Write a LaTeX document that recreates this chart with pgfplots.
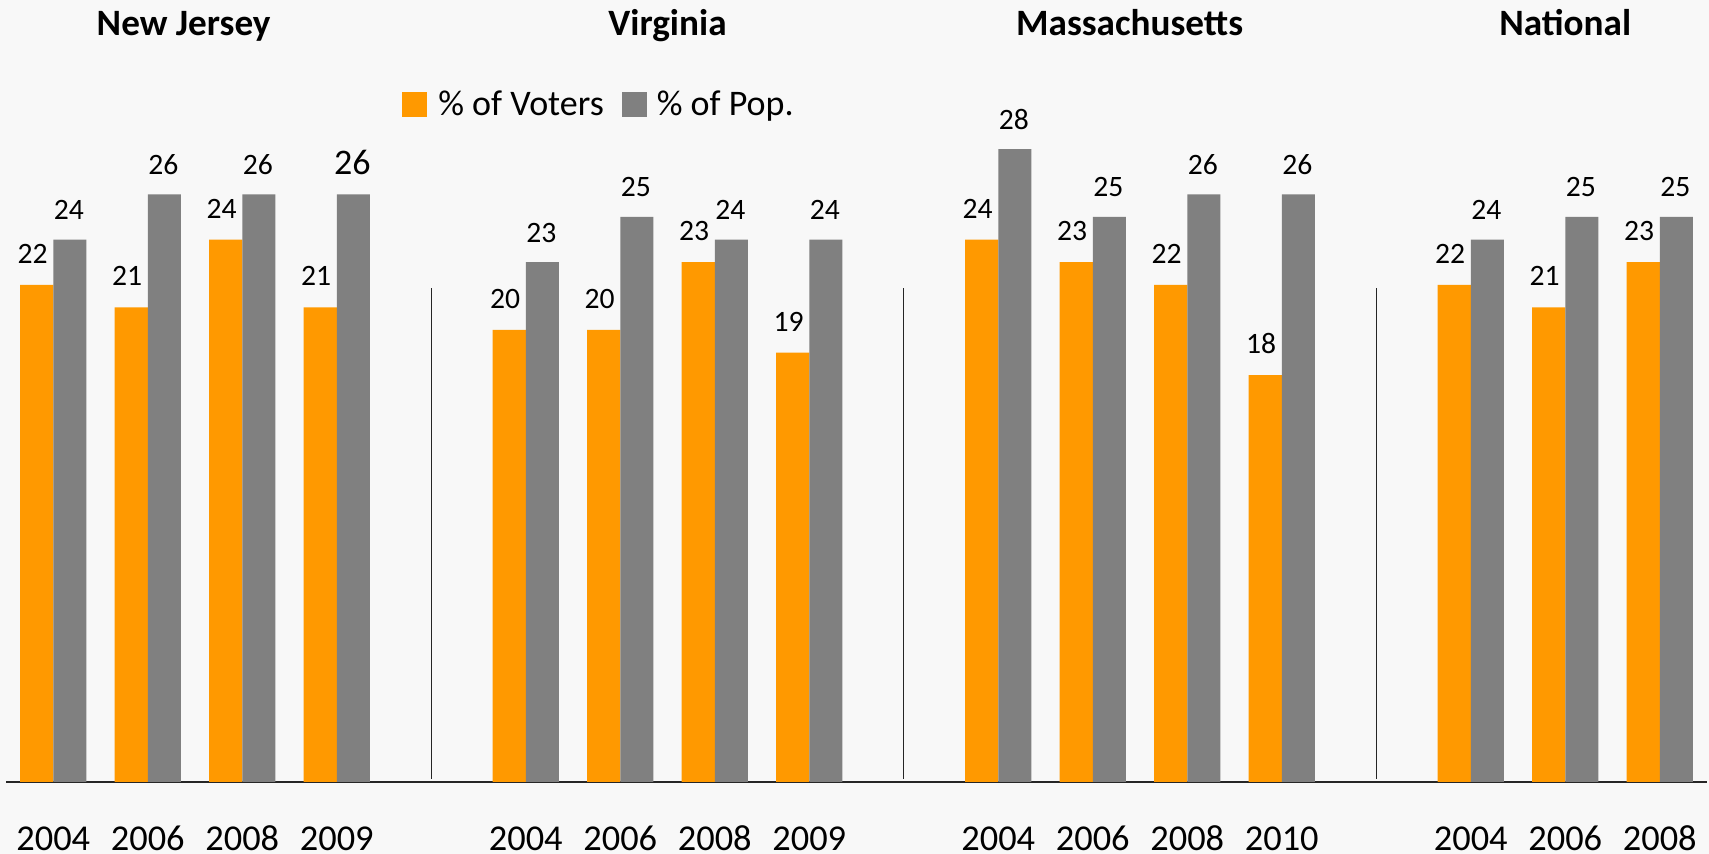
\documentclass[border=0pt]{standalone}
\usepackage{fontspec}
\setmainfont{Carlito}
\usepackage{pgfplots}
\pgfplotsset{compat=1.18}
\definecolor{bgc}{HTML}{F8F8F8}
\definecolor{org}{HTML}{FF9900}
\definecolor{gry}{HTML}{808080}
\begin{document}
\begin{tikzpicture}
\fill[bgc] (-3pt,-36pt) rectangle (851.5pt,391pt);
\begin{axis}[
  at={(0,0)}, anchor=south west,
  scale only axis, width=850.5pt, height=391pt,
  xmin=-0.5, xmax=17.5, ymin=0, ymax=34.6,
  ybar=0pt, bar width=0.35,
  axis x line=bottom, axis y line=none,
  axis line style={-, line width=0.6pt, color=black!85},
  xtick={0,1,2,3,5,6,7,8,10,11,12,13,15,16,17},
  xticklabels={2004,2006,2008,2009,2004,2006,2008,2009,2004,2006,2008,2010,2004,2006,2008},
  major tick length=0pt,
  xticklabel style={anchor=base, yshift=-34.4pt, font=\fontsize{18.2}{18.2}\selectfont},
  /pgf/number format/assume math mode=true,
  nodes near coords,
  every node near coord/.append style={anchor=base, inner sep=0pt, font=\fontsize{14.8}{14.8}\selectfont, text=black},
  clip=false,
  legend columns=2,
  legend cell align=left,
  legend style={at={(axis cs:3.69,29.96)}, anchor=west, draw=none, fill=none, inner sep=0pt,
    font=\fontsize{18}{18}\selectfont, nodes={inner sep=0pt},
    /tikz/every even column/.append style={column sep=9pt}},
]
\addplot[fill=org, draw=none,
  legend image code/.code={\fill[org] (0pt,-6.25pt) rectangle (12.5pt,6.25pt); \path (18pt,0pt);},
  every node near coord/.append style={xshift=-2pt, yshift=10.75pt}]
  coordinates {(0,22) (1,21) (2,24) (3,21) (5,20) (6,20) (7,23) (8,19) (10,24) (11,23) (12,22) (13,18) (15,22) (16,21) (17,23)};
\addplot[fill=gry, draw=none, point meta=explicit symbolic,
  legend image code/.code={\fill[gry] (0pt,-6.25pt) rectangle (12.5pt,6.25pt); \path (17.5pt,0pt);},
  every node near coord/.append style={xshift=-0.5pt, yshift=10pt}]
  coordinates {(0,24) [24] (1,26) [26] (2,26) [26] (3,26) [{\fontsize{18}{18}\selectfont 26}] (5,23) [23] (6,25) [25] (7,24) [24] (8,24) [24] (10,28) [28] (11,25) [25] (12,26) [26] (13,26) [26] (15,24) [24] (16,25) [25] (17,25) [25]};
\legend{\% of Voters, \% of Pop.}
\draw[line width=0.6pt, black!85] (axis cs:4,0.15) -- (axis cs:4,21.85);
\draw[line width=0.6pt, black!85] (axis cs:9,0.15) -- (axis cs:9,21.85);
\draw[line width=0.6pt, black!85] (axis cs:14,0.15) -- (axis cs:14,21.85);
\node[anchor=base, font=\bfseries\fontsize{18.6}{18.6}\selectfont] at (axis cs:1.38,33.05) {New Jersey};
\node[anchor=base, font=\bfseries\fontsize{18.6}{18.6}\selectfont] at (axis cs:6.5,33.05) {Virginia};
\node[anchor=base, font=\bfseries\fontsize{18.6}{18.6}\selectfont] at (axis cs:11.39,33.05) {Massachusetts};
\node[anchor=base, font=\bfseries\fontsize{18.6}{18.6}\selectfont] at (axis cs:16.0,33.05) {National};
\end{axis}
\pgfresetboundingbox
\path[use as bounding box] (-3pt,-36pt) rectangle (851.5pt,391pt);
\end{tikzpicture}
\end{document}
